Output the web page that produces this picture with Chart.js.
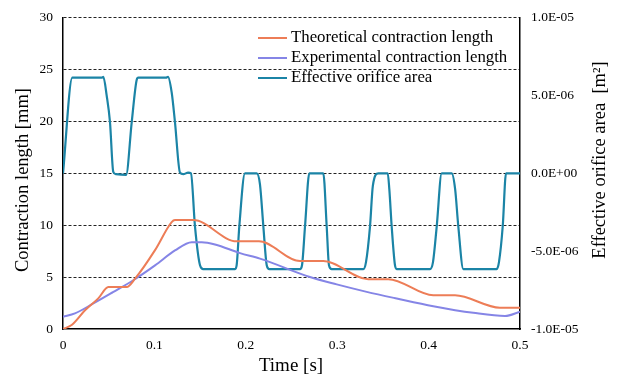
<!DOCTYPE html>
<html lang="en">
  <head>
    <meta charset="UTF-8" />
    <title>Contraction length</title>
    <script src="https://cdn.jsdelivr.net/npm/chart.js"></script>
    <style>
      html,
      body {
        margin: 0;
        padding: 0;
        background: #fff;
      }
      #wrap {
        width: 619px;
        height: 378px;
      }
    </style>
  </head>
  <body>
    <div id="wrap"><canvas id="chart" width="619" height="378"></canvas></div>
  </body>
  <script>
    // values
    const theoTime = [0, 0.0095, 0.0241, 0.0386, 0.0496, 0.0697, 0.0788, 0.1007, 0.1189, 0.1225, 0.1426, 0.19, 0.2144, 0.2593, 0.2848, 0.334, 0.3559, 0.4051, 0.4289, 0.4781, 0.5];
    const theoLength = [0, 0.38, 1.8, 2.95, 4.05, 4.05, 4.85, 7.6, 10.3, 10.5, 10.5, 8.45, 8.45, 6.55, 6.55, 4.8, 4.8, 3.25, 3.25, 2.05, 2.05];

    const expTime = [0, 0.0131, 0.0332, 0.0547, 0.0769, 0.1007, 0.1225, 0.1408, 0.1518, 0.1663, 0.1937, 0.2155, 0.2702, 0.2995, 0.3323, 0.3651, 0.4051, 0.4489, 0.4836, 0.5];
    const expLength = [1.18, 1.5, 2.46, 3.55, 4.7, 6.13, 7.57, 8.37, 8.37, 8.15, 7.31, 6.78, 5.01, 4.3, 3.58, 2.94, 2.2, 1.56, 1.25, 1.66];

    const areaTime = [0, 0.0102, 0.0423, 0.0441, 0.0478, 0.0514, 0.055, 0.058, 0.069, 0.0752, 0.0806, 0.0824, 0.1127, 0.1149, 0.1189, 0.1225, 0.128, 0.1316, 0.137, 0.14, 0.1444, 0.1499, 0.1535, 0.1882, 0.19, 0.1929, 0.1991, 0.2119, 0.2155, 0.2192, 0.2229, 0.2257, 0.2593, 0.2615, 0.2648, 0.2695, 0.2848, 0.2885, 0.291, 0.294, 0.3286, 0.3315, 0.3359, 0.339, 0.345, 0.3553, 0.357, 0.3596, 0.3632, 0.3651, 0.4015, 0.4048, 0.4089, 0.4143, 0.4253, 0.429, 0.4325, 0.438, 0.4745, 0.477, 0.4811, 0.4847, 0.5];
    const areaValue = [0, 6.15e-6, 6.15e-6, 6.2e-6, 5.0e-6, 3.3e-6, 0.1e-6, -0.05e-6, -0.1e-6, 3.3e-6, 6.0e-6, 6.15e-6, 6.15e-6, 6.2e-6, 5.2e-6, 3.3e-6, 0.05e-6, -0.05e-6, 0.05e-6, 0, -3.4e-6, -5.9e-6, -6.15e-6, -6.15e-6, -5.9e-6, -3.4e-6, 0, 0, -0.7e-6, -3.4e-6, -5.9e-6, -6.15e-6, -6.15e-6, -5.9e-6, -3.4e-6, 0, 0, -3.4e-6, -5.9e-6, -6.15e-6, -6.15e-6, -5.7e-6, -3.4e-6, -0.8e-6, 0, 0, -1.0e-6, -3.4e-6, -5.9e-6, -6.15e-6, -6.15e-6, -5.7e-6, -3.4e-6, 0, 0, -1.0e-6, -3.4e-6, -6.15e-6, -6.15e-6, -5.7e-6, -3.4e-6, 0, 0];

    const seriesNames = ["Theoretical contraction length", "Experimental contraction length", "Effective orifice area"];
    const seriesColors = ["#ED7D57", "#8585E6", "#1B84A6"];

    const xTicks = [0, 0.1, 0.2, 0.3, 0.4, 0.5];
    const leftTicks = [0, 5, 10, 15, 20, 25, 30];
    const rightTicks = [-1e-5, -5e-6, 0, 5e-6, 1e-5];

    const serif = "'Liberation Serif', 'Times New Roman', serif";

    const zip = (xs, ys) => xs.map((x, i) => ({ x: x, y: ys[i] }));

    const sciLabel = (v) => {
      if (Math.abs(v) < 1e-12) return "0.0E+00";
      const [m, e] = v.toExponential(1).split("e");
      const n = parseInt(e, 10);
      return m + "E" + (n < 0 ? "-" : "+") + String(Math.abs(n)).padStart(2, "0");
    };

    // titles + legend drawn by hand so they sit where the reference has them
    const extras = {
      id: "extras",
      afterDraw(chart) {
        const ctx = chart.ctx;
        ctx.save();
        ctx.fillStyle = "#000";
        ctx.font = "19px " + serif;
        ctx.textAlign = "center";
        ctx.textBaseline = "middle";
        ctx.fillText("Time [s]", 291, 366);

        ctx.font = "18.5px " + serif;
        ctx.save();
        ctx.translate(23, 180);
        ctx.rotate(-Math.PI / 2);
        ctx.fillText("Contraction length [mm]", 0, 0);
        ctx.restore();

        ctx.save();
        ctx.translate(600, 160);
        ctx.rotate(-Math.PI / 2);
        ctx.fillText("Effective orifice area  [m\u00B2]", 0, 0);
        ctx.restore();

        ctx.font = "16.8px " + serif;
        ctx.textAlign = "left";
        const rows = [38, 58, 78];
        rows.forEach((y, i) => {
          ctx.strokeStyle = seriesColors[i];
          ctx.lineWidth = 2;
          ctx.beginPath();
          ctx.moveTo(258, y);
          ctx.lineTo(287, y);
          ctx.stroke();
          ctx.fillText(seriesNames[i], 291, y);
        });
        ctx.restore();
      },
    };

    const tickFont = { family: serif, size: 13.5, lineHeight: 1 };

    new Chart(document.getElementById("chart"), {
      type: "line",
      data: {
        datasets: [
          {
            label: seriesNames[0],
            data: zip(theoTime, theoLength),
            borderColor: seriesColors[0],
            borderWidth: 2,
            yAxisID: "y",
          },
          {
            label: seriesNames[1],
            data: zip(expTime, expLength),
            borderColor: seriesColors[1],
            borderWidth: 2,
            yAxisID: "y",
          },
          {
            label: seriesNames[2],
            data: zip(areaTime, areaValue),
            borderColor: seriesColors[2],
            borderWidth: 2.2,
            yAxisID: "y2",
          },
        ],
      },
      options: {
        responsive: false,
        animation: false,
        layout: { padding: { top: 16, left: 0, right: 0, bottom: 0 } },
        elements: {
          point: { radius: 0 },
          line: { cubicInterpolationMode: "monotone", fill: false },
        },
        plugins: { legend: { display: false }, tooltip: { enabled: false } },
        scales: {
          x: {
            type: "linear",
            min: 0,
            max: 0.5,
            afterBuildTicks: (s) => {
              s.ticks = xTicks.map((v) => ({ value: v }));
            },
            afterFit: (s) => {
              s.height = 49;
            },
            ticks: {
              color: "#000",
              padding: 10,
              maxRotation: 0,
              font: tickFont,
              callback: (v) => (v === 0 ? "0" : v.toFixed(1)),
            },
            grid: { display: false, drawTicks: false },
            border: { display: true, color: "#000", width: 1.5 },
          },
          y: {
            position: "left",
            min: 0,
            max: 30,
            afterBuildTicks: (s) => {
              s.ticks = leftTicks.map((v) => ({ value: v }));
            },
            afterFit: (s) => {
              s.width = 63;
            },
            ticks: {
              color: "#000",
              padding: 10,
              font: tickFont,
            },
            grid: {
              drawTicks: false,
              color: (c) => (c.tick && c.tick.value === 0 ? "rgba(0,0,0,0)" : "#222"),
              lineWidth: 1,
            },
            border: { display: true, color: "#000", width: 1.5, dash: [3, 2] },
          },
          y2: {
            position: "right",
            min: -1e-5,
            max: 1e-5,
            afterBuildTicks: (s) => {
              s.ticks = rightTicks.map((v) => ({ value: v }));
            },
            afterFit: (s) => {
              s.width = 99;
            },
            ticks: {
              color: "#000",
              padding: 11,
              font: tickFont,
              callback: (v) => sciLabel(v),
            },
            grid: { display: false, drawTicks: false },
            border: { display: true, color: "#000", width: 1.5 },
          },
        },
      },
      plugins: [extras],
    });
  </script>
</html>
